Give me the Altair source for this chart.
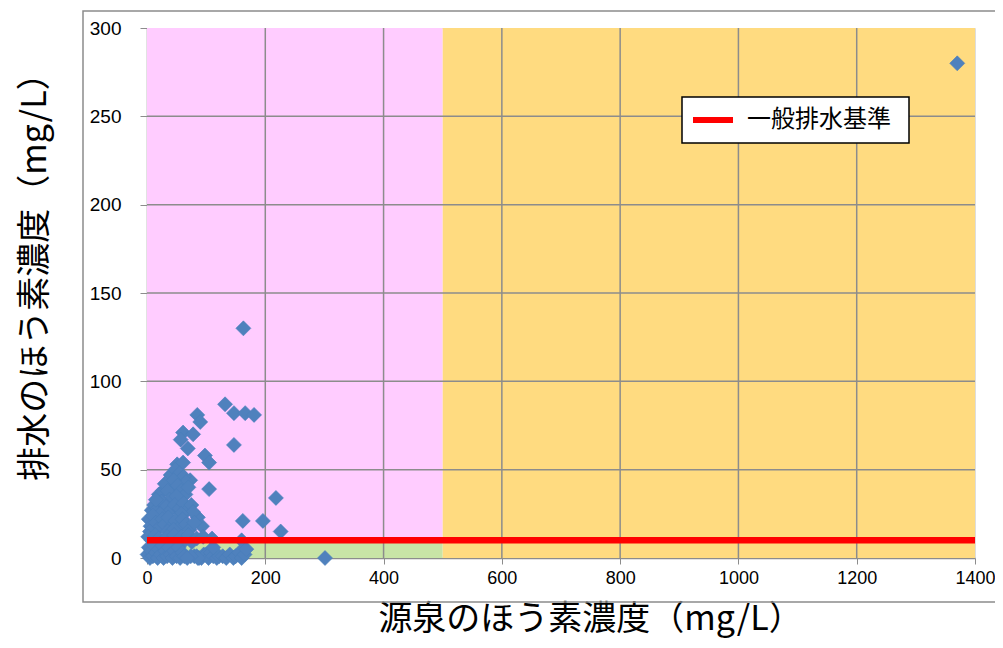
import altair as alt
import pandas as pd

# ---- data ----
src_x = [1370, 163, 132, 147, 166, 181, 85, 90, 61, 78, 57, 69, 147, 98, 105, 51, 61, 105, 218, 162,
         196, 226, 86, 93, 301, 27, 73, 44,
         40, 48, 55, 62, 66,
         20, 30, 35, 45, 52, 58, 65, 70, 38, 50,
         8, 12, 18, 25, 32, 40, 47, 55, 62, 68, 75, 78, 22, 58, 15,
         3, 6, 10, 15, 20, 26, 30, 36, 42, 48, 54, 60, 66, 72, 80, 5, 35, 45,
         2, 8, 14, 20, 28, 34, 40, 46, 52, 58, 64, 70, 76, 84, 95, 110, 160,
         1, 3, 5, 7, 10, 12, 15, 18, 20, 23, 26, 28, 31, 34, 37, 40, 43, 46, 50, 53,
         56, 60, 63, 80, 84, 88, 92, 96, 100, 104, 108, 112, 118, 122, 128, 134, 140, 146, 150, 156,
         160, 165, 168, 86, 74, 68, 112]
eff_y = [280, 130, 87, 82, 82, 81, 81, 77, 71, 70, 67, 62, 64, 58, 54, 53, 54, 39, 34, 21,
         21, 15, 23, 18, 0, 38, 44, 40,
         47, 50, 48, 46, 43,
         36, 42, 38, 44, 41, 38, 36, 40, 33, 35,
         27, 30, 28, 32, 29, 27, 30, 28, 31, 27, 30, 26, 25, 25, 33,
         22, 18, 24, 20, 17, 22, 19, 23, 18, 21, 17, 22, 19, 16, 20, 15, 15, 16,
         12, 10, 13, 11, 9, 12, 10, 13, 9, 12, 10, 13, 9, 11, 12, 11, 10,
         2, 6, 0, 4, 1, 7, 3, 0, 5, 2, 7, 0, 4, 1, 6, 2, 0, 4, 1, 6,
         0, 3, 1, 1, 1, 0, 0, 2, 2, 0, 3, 1, 0, 1, 1, 0, 2, 0, 1, 3,
         0, 2, 5, 0, 1, 0, 6]

bg_x0 = [0, 0, 500]
bg_x1 = [500, 500, 1400]
bg_y0 = [10, 0, 0]
bg_y1 = [300, 10, 300]
bg_col = ["#FFCCFF", "#C8E4A6", "#FFDB80"]

std_label = ["一般排水基準"]
std_value = [10]

x_ticks = [0, 200, 400, 600, 800, 1000, 1200, 1400]
y_ticks = [0, 50, 100, 150, 200, 250, 300]

GRID = "#8C8C8C"
LABEL_FONT = "Liberation Sans"
CJK = "Noto Sans CJK JP"

pts = pd.DataFrame({"x": src_x, "y": eff_y})
bg = pd.DataFrame({"x0": bg_x0, "x1": bg_x1, "y0": bg_y0, "y1": bg_y1, "c": bg_col})
std = pd.DataFrame({"x0": [0], "x1": [1400], "y": std_value, "label": std_label})
gx = pd.DataFrame({"v": x_ticks[1:-1]})
gy = pd.DataFrame({"v": y_ticks[1:-1]})

xscale = alt.Scale(domain=[0, 1400], nice=False)
yscale = alt.Scale(domain=[0, 300], nice=False)

xaxis = alt.Axis(values=x_ticks, grid=False, title="源泉のほう素濃度（mg/L）", format="d",
                 titleFont=CJK, titleFontSize=34, titleFontWeight="normal", titleColor="#000",
                 titleX=443, titleY=61.5, titleBaseline="middle", titleAlign="center",
                 labelFont=LABEL_FONT, labelFontSize=18, labelColor="#000", labelPadding=5,
                 labelFlush=False,
                 tickSize=6, tickColor=GRID, domainColor=GRID, domainWidth=1.5)
yaxis = alt.Axis(values=y_ticks, grid=False, title="排水のほう素濃度（mg/L）", format="d",
                 titleFont=CJK, titleFontSize=34, titleFontWeight="normal", titleColor="#000",
                 titleX=-112, titleY=240, titleBaseline="middle", titleAlign="center", titleAngle=270,
                 labelFont=LABEL_FONT, labelFontSize=19, labelColor="#000", labelPadding=19,
                 labelFlush=False,
                 tickSize=7, tickColor=GRID, domainColor=GRID, domainWidth=1.5)

one = pd.DataFrame({"a": [0]})

frame = alt.Chart(one).mark_rect(
    fillOpacity=0, stroke="#8C8C8C", strokeWidth=1.5
).encode(x=alt.value(-64), x2=alt.value(880), y=alt.value(-17), y2=alt.value(574))

bgl = alt.Chart(bg).mark_rect().encode(
    x=alt.X("x0:Q", scale=xscale, axis=xaxis),
    x2="x1:Q",
    y=alt.Y("y0:Q", scale=yscale, axis=yaxis),
    y2="y1:Q",
    color=alt.Color("c:N", scale=None),
)

gridx = alt.Chart(gx).mark_rule(color=GRID, strokeWidth=1.5).encode(
    x=alt.X("v:Q", scale=xscale), y=alt.value(0), y2=alt.value(530))
gridy = alt.Chart(gy).mark_rule(color=GRID, strokeWidth=1.5).encode(
    y=alt.Y("v:Q", scale=yscale), x=alt.value(0), x2=alt.value(828))

points = alt.Chart(pts).mark_point(
    shape="diamond", filled=True, size=225, color="#4F81BD", opacity=1,
    stroke="#4A7DBA", strokeWidth=0.6
).encode(x=alt.X("x:Q", scale=xscale), y=alt.Y("y:Q", scale=yscale))

stdline = alt.Chart(std).mark_rule(strokeWidth=6.5, color="#FF0000").encode(
    x=alt.X("x0:Q", scale=xscale), x2="x1:Q",
    y=alt.Y("y:Q", scale=yscale),
)

# legend (drawn by hand)
leg_box = alt.Chart(one).mark_rect(fill="#FFFFFF", stroke="#000000", strokeWidth=1.5).encode(
    x=alt.value(535), x2=alt.value(762), y=alt.value(69), y2=alt.value(115))
leg_line = alt.Chart(one).mark_rule(color="#FF0000", strokeWidth=6).encode(
    x=alt.value(546), x2=alt.value(586), y=alt.value(92))
leg_text = alt.Chart(pd.DataFrame({"label": std_label})).mark_text(
    font=CJK, fontSize=24, color="#000", align="left", baseline="middle"
).encode(x=alt.value(600), y=alt.value(92), text="label:N")

chart = alt.layer(frame, bgl, gridx, gridy, points, stdline, leg_box, leg_line, leg_text).properties(
    width=828, height=530,
    autosize=alt.AutoSizeParams(type="none"),
    padding={"left": 139, "top": 20, "right": 20, "bottom": 82},
).configure_view(stroke=GRID, strokeWidth=1.5).configure(background="#FFFFFF")

chart.save("out.html", embed_options={"renderer": "svg", "actions": False})
